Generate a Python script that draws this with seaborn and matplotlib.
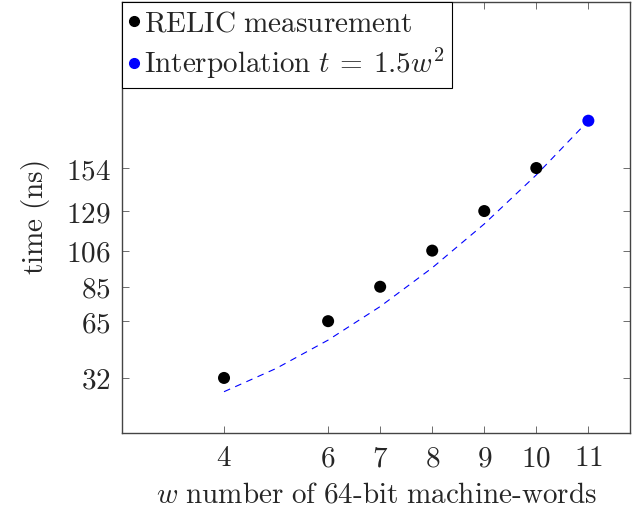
import matplotlib
matplotlib.use("Agg")
import matplotlib.pyplot as plt
from matplotlib.lines import Line2D
import seaborn as sns
import pandas as pd

# data
w_meas = [4, 6, 7, 8, 9, 10]
t_meas = [32, 65, 85, 106, 129, 154]
w_interp = [4, 5, 6, 7, 8, 9, 10, 11]
t_interp = [24, 37.5, 54, 73.5, 96, 121.5, 150, 181.5]
w_extra = [11]
t_extra = [181.5]
x_ticks = [4, 6, 7, 8, 9, 10, 11]
y_ticks = [32, 65, 85, 106, 129, 154]

sns.set_theme(style="ticks")
plt.rcParams['font.family'] = ['DejaVu Serif']
plt.rcParams['mathtext.fontset'] = 'cm'

fs = 21
fig = plt.figure(figsize=(6.32, 5.14), dpi=100)
ax = fig.add_axes([122/632, 1-433/514, (630-122)/632, (433-2)/514])

df_i = pd.DataFrame({"w": w_interp, "t": t_interp})
sns.lineplot(data=df_i, x="w", y="t", ax=ax, color=(0, 0, 1), lw=0.8,
             linestyle=(0, (6, 5)), legend=False)
df_m = pd.DataFrame({"w": w_meas, "t": t_meas})
sns.scatterplot(data=df_m, x="w", y="t", ax=ax, color="black", s=75,
                edgecolor="none", legend=False, zorder=3)
df_e = pd.DataFrame({"w": w_extra, "t": t_extra})
sns.scatterplot(data=df_e, x="w", y="t", ax=ax, color=(0, 0, 1), s=75,
                edgecolor="none", legend=False, zorder=3)

ax.set_xlim(2.04, 11.8)
ax.set_ylim(0, 250.5)
ax.set_xticks(x_ticks)
ax.set_xticklabels([f"${v}$" for v in x_ticks], fontsize=fs)
ax.set_yticks(y_ticks)
ax.set_yticklabels([f"${v}$" for v in y_ticks], fontsize=fs)
ax.tick_params(direction="in", length=5, width=0.6, color="#555555",
               top=True, right=True, pad=8)
for s in ax.spines.values():
    s.set_visible(True)
    s.set_color("#444444")
    s.set_linewidth(1.0)

ax.set_xlabel(r"$w\ \mathrm{number\ of\ 64\text{-}bit\ machine\text{-}words}$", fontsize=fs, labelpad=6)
ax.set_ylabel(r"$\mathrm{time\ (ns)}$", fontsize=fs, labelpad=10)

handles = [
    Line2D([], [], marker="o", color="black", linestyle="none", markersize=7),
    Line2D([], [], marker="o", color=(0, 0, 1), linestyle="none", markersize=7),
]
labels = [r"$\mathrm{RELIC\ measurement}$", r"$\mathrm{Interpolation}\ t\:=\:1.5w^2$"]
leg = ax.legend(handles, labels, loc="upper left", borderaxespad=0, fontsize=fs,
                frameon=True, fancybox=False, edgecolor="black", framealpha=1,
                handlelength=0.3, handletextpad=0.2, borderpad=0.25, labelspacing=0.3)
leg.get_frame().set_linewidth(0.8)

fig.savefig("out.png", dpi=100)
